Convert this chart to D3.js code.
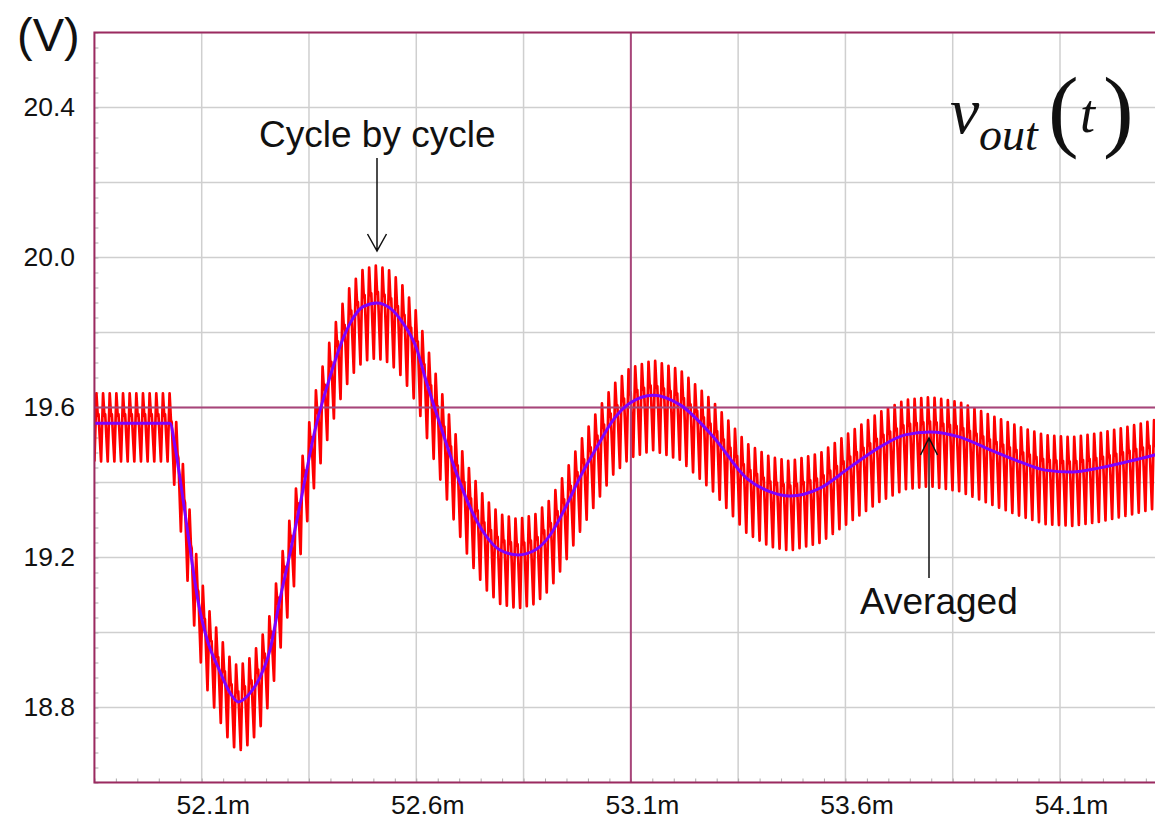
<!DOCTYPE html>
<html>
<head>
<meta charset="utf-8">
<script src="https://cdn.jsdelivr.net/npm/d3@7"></script>
<style>
  body { margin: 0; background: #fff; }
  text { font-family: "Liberation Sans", Arial, sans-serif; fill: #111; }
  .serif { font-family: "Liberation Serif", "Times New Roman", serif; }
</style>
</head>
<body>
<div id="root"></div>
<script>
// averaged output voltage (blue)
const timeMs = [51.85, 52.026, 52.038, 52.050, 52.070, 52.091, 52.115, 52.138, 52.166, 52.185,
  52.213, 52.236, 52.259, 52.282, 52.306, 52.329, 52.364, 52.399, 52.422, 52.446, 52.476, 52.508,
  52.539, 52.569, 52.602, 52.620, 52.656, 52.691, 52.726, 52.761, 52.795, 52.837, 52.877, 52.912,
  52.947, 52.982, 53.021, 53.059, 53.098, 53.152, 53.215, 53.292, 53.370, 53.425, 53.471, 53.541,
  53.611, 53.681, 53.739, 53.797, 53.867, 53.937, 54.007, 54.065, 54.128, 54.193, 54.263, 54.35];
const avgV = [19.558, 19.558, 19.495, 19.407, 19.247, 19.087, 18.972, 18.908, 18.839, 18.815,
  18.839, 18.881, 18.953, 19.087, 19.212, 19.340, 19.540, 19.682, 19.762, 19.825, 19.869, 19.879,
  19.865, 19.825, 19.753, 19.682, 19.553, 19.433, 19.332, 19.260, 19.220, 19.207, 19.220, 19.260,
  19.332, 19.415, 19.495, 19.567, 19.612, 19.633, 19.607, 19.522, 19.411, 19.375, 19.364, 19.385,
  19.441, 19.495, 19.527, 19.535, 19.521, 19.487, 19.455, 19.433, 19.428, 19.439, 19.457, 19.482];

// switching ripple around the average (cycle by cycle, red): peak above / valley below
const rippleT  = [51.85, 52.026, 52.06, 52.185, 52.508, 52.837, 53.152, 53.797, 54.35];
const rippleHi = [0.080, 0.080, 0.093, 0.093, 0.100, 0.095, 0.093, 0.093, 0.093];
const rippleLo = [0.102, 0.102, 0.133, 0.133, 0.147, 0.143, 0.147, 0.145, 0.143];
const switchPeriod = 0.0155; // ms
const cyclePhase = [0, 0.3, 0.5, 0.62, 1];
const cycleLevel = [-1, 1, 0.25, 0.3, -1];

const yLabels = [18.8, 19.2, 19.6, 20.0, 20.4];
const xLabels = [52.1, 52.6, 53.1, 53.6, 54.1];

const width = 1155, height = 821;

const x = d3.scaleLinear().domain([52.1, 54.1]).range([201.7, 1060]);
const y = d3.scaleLinear().domain([18.6, 20.6]).range([782.5, 32.5]);
const x0 = x(51.85), x1 = x(54.35), y0 = y(20.6), y1 = y(18.6);

const frameColor = "#9b2a60";
const markColor = "#a8457a";

const svg = d3.select("#root").append("svg")
  .attr("width", width)
  .attr("height", height);

svg.append("clipPath").attr("id", "plot")
  .append("rect")
  .attr("x", x0).attr("y", y0)
  .attr("width", x1 - x0).attr("height", y1 - y0);

// grid
const grid = svg.append("g").attr("clip-path", "url(#plot)");
grid.selectAll(".hg")
  .data(d3.range(0, 11).map(i => 18.6 + i * 0.2))
  .enter().append("line")
  .attr("x1", x0).attr("x2", x1)
  .attr("y1", d => y(d)).attr("y2", d => y(d))
  .attr("stroke", "#cfcfcf").attr("stroke-width", 1.5);
grid.selectAll(".vg")
  .data(d3.range(0, 11).map(i => 51.85 + i * 0.25))
  .enter().append("line")
  .attr("x1", d => x(d)).attr("x2", d => x(d))
  .attr("y1", y0).attr("y2", y1)
  .attr("stroke", "#cfcfcf").attr("stroke-width", 1.5);

// minor ticks
svg.append("g")
  .attr("transform", `translate(${x0},0)`)
  .call(d3.axisRight(y).tickValues(d3.range(0, 51).map(i => 18.6 + i * 0.04)).tickSize(4).tickFormat(""))
  .call(g => g.select(".domain").remove())
  .call(g => g.selectAll("line").attr("stroke", "#aaa"));
svg.append("g")
  .attr("transform", `translate(0,${y1})`)
  .call(d3.axisTop(x).tickValues(d3.range(0, 51).map(i => 51.85 + i * 0.05)).tickSize(4).tickFormat(""))
  .call(g => g.select(".domain").remove())
  .call(g => g.selectAll("line").attr("stroke", "#aaa"));

// red cycle-by-cycle trace built from the average plus ripple envelope
const avgAt = d3.scaleLinear().domain(timeMs).range(avgV).clamp(true);
const hiAt = d3.scaleLinear().domain(rippleT).range(rippleHi).clamp(true);
const loAt = d3.scaleLinear().domain(rippleT).range(rippleLo).clamp(true);
const redPts = [];
const nCycles = Math.ceil((54.35 - 51.85) / switchPeriod);
for (let k = 0; k < nCycles; k++) {
  cyclePhase.forEach((p, i) => {
    if (k > 0 && i === 0) return;
    const t = 51.85 + (k + p) * switchPeriod;
    const l = cycleLevel[i];
    const v = avgAt(t) + (l >= 0 ? l * hiAt(t) : l * loAt(t));
    redPts.push([t, v]);
  });
}

const plot = svg.append("g").attr("clip-path", "url(#plot)");
plot.append("path")
  .datum(redPts)
  .attr("fill", "none")
  .attr("stroke", "#ff0000")
  .attr("stroke-width", 2.7)
  .attr("stroke-linejoin", "round")
  .attr("d", d3.line().x(d => x(d[0])).y(d => y(d[1])));

// emphasised reference lines
plot.append("line")
  .attr("x1", x0).attr("x2", x1)
  .attr("y1", y(19.6)).attr("y2", y(19.6))
  .attr("stroke", markColor).attr("stroke-width", 2);
plot.append("line")
  .attr("x1", x(53.1)).attr("x2", x(53.1))
  .attr("y1", y0).attr("y2", y1)
  .attr("stroke", markColor).attr("stroke-width", 2);

// averaged trace
plot.append("path")
  .datum(d3.zip(timeMs, avgV))
  .attr("fill", "none")
  .attr("stroke", "#7f00ff")
  .attr("stroke-width", 3)
  .attr("d", d3.line().curve(d3.curveMonotoneX).x(d => x(d[0])).y(d => y(d[1])));

// frame
svg.append("rect")
  .attr("x", x0).attr("y", y0)
  .attr("width", x1 - x0).attr("height", y1 - y0)
  .attr("fill", "none")
  .attr("stroke", frameColor).attr("stroke-width", 2);

// y labels
svg.append("g")
  .attr("transform", "translate(75,0)")
  .call(d3.axisLeft(y).tickValues(yLabels).tickSize(0).tickPadding(0).tickFormat(d3.format(".1f")))
  .call(g => g.select(".domain").remove())
  .call(g => g.selectAll("text")
    .attr("font-size", 26.5).attr("font-family", "Liberation Sans, Arial, sans-serif")
    .attr("fill", "#111").attr("dy", "0.3em"));

// x labels: number centred on tick, "m" appended
const xl = svg.append("g")
  .attr("transform", `translate(0,${y1})`)
  .call(d3.axisBottom(x).tickValues(xLabels).tickSize(0).tickPadding(0).tickFormat(d3.format(".1f")))
  .call(g => g.select(".domain").remove());
xl.selectAll("text")
  .attr("font-size", 26.5).attr("font-family", "Liberation Sans, Arial, sans-serif")
  .attr("fill", "#111").attr("dy", null).attr("y", 31)
  .each(function () {
    const el = d3.select(this);
    const w = this.getComputedTextLength();
    el.attr("text-anchor", "start").attr("x", -w / 2);
    el.append("tspan").text("m");
  });

svg.append("text").attr("x", 17).attr("y", 51).attr("font-size", 47).text("(V)");

// annotations
svg.append("text").attr("x", 259).attr("y", 146.5).attr("font-size", 37).text("Cycle by cycle");
svg.append("path")
  .attr("d", "M377,158 L377,251 M367.5,234 L377,251 L386.5,234")
  .attr("fill", "none").attr("stroke", "#111").attr("stroke-width", 1.5);

svg.append("text").attr("x", 860).attr("y", 614).attr("font-size", 37).text("Averaged");
svg.append("path")
  .attr("d", "M929,578 L929,438 M920.5,455 L929,438 L937.5,455")
  .attr("fill", "none").attr("stroke", "#111").attr("stroke-width", 1.5);

// v_out(t)
const lab = svg.append("g");
lab.append("text").attr("class", "serif").attr("x", 950).attr("y", 133)
  .attr("font-size", 66).attr("font-style", "italic").text("v");
lab.append("text").attr("class", "serif").attr("x", 979).attr("y", 150)
  .attr("font-size", 46).attr("font-style", "italic").text("out");
lab.append("text").attr("class", "serif").attr("x", 1048).attr("y", 140)
  .attr("font-size", 92).text("(");
lab.append("text").attr("class", "serif").attr("x", 1080).attr("y", 132)
  .attr("font-size", 54).attr("font-style", "italic").text("t");
lab.append("text").attr("class", "serif").attr("x", 1103).attr("y", 140)
  .attr("font-size", 92).text(")");
</script>
</body>
</html>
